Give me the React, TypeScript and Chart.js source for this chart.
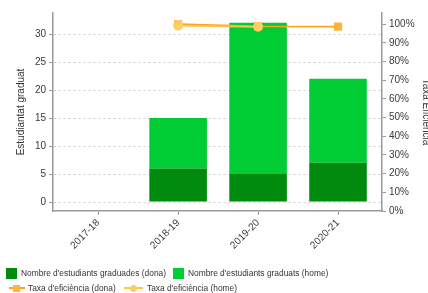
import React, { useEffect, useRef } from 'react';
import { Chart, registerables } from 'chart.js';

Chart.register(...registerables);

const categories = ['2017-18', '2018-19', '2019-20', '2020-21'];
const graduatesWomen = [null, 6, 5, 7];
const graduatesMen = [null, 9, 27, 15];
const efficiencyWomen = [null, 100, 98.8, 98.7];
const efficiencyMen = [null, 99.2, 98.6, null];
const leftTicks = [0, 5, 10, 15, 20, 25, 30];
const rightTicks = [0, 10, 20, 30, 40, 50, 60, 70, 80, 90, 100];

const legendBars = ["Nombre d'estudiants graduades (dona)", "Nombre d'estudiants graduats (home)"];
const legendLines = ["Taxa d'eficiència (dona)", "Taxa d'eficiència (home)"];

const FONT = '"Liberation Sans", Arial, sans-serif';
const DARK_GREEN = '#008a0e';
const LIGHT_GREEN = '#00cc33';
const ORANGE = '#ffa31a';
const ORANGE_FILL = '#ffb340';
const LIGHT_ORANGE = '#ffc24d';
const LIGHT_ORANGE_FILL = '#ffcc66';
const AXIS = '#9a9a9a';
const LABEL = '#3a3a3a';

export default function App() {
  const ref = useRef<HTMLCanvasElement | null>(null);

  useEffect(() => {
    document.body.style.margin = '0';
    const canvas = ref.current;
    if (!canvas) return;
    const chart = new Chart(canvas, {
      type: 'bar',
      data: {
        labels: categories,
        datasets: [
          {
            type: 'line',
            label: legendLines[0],
            data: efficiencyWomen,
            yAxisID: 'y1',
            borderColor: ORANGE,
            backgroundColor: ORANGE_FILL,
            pointBackgroundColor: ORANGE_FILL,
            pointBorderColor: ORANGE_FILL,
            pointStyle: 'rect',
            pointRadius: 4.5,
            borderWidth: 1.8,
            order: 1,
          } as any,
          {
            type: 'line',
            label: legendLines[1],
            data: efficiencyMen,
            yAxisID: 'y1',
            borderColor: LIGHT_ORANGE,
            backgroundColor: LIGHT_ORANGE_FILL,
            pointBackgroundColor: LIGHT_ORANGE_FILL,
            pointBorderColor: LIGHT_ORANGE_FILL,
            pointStyle: 'circle',
            pointRadius: 4,
            borderWidth: 1.8,
            order: 0,
          } as any,
          {
            type: 'bar',
            label: legendBars[0],
            data: graduatesWomen,
            yAxisID: 'y',
            backgroundColor: DARK_GREEN,
            barPercentage: 0.72,
            categoryPercentage: 1,
            order: 3,
          } as any,
          {
            type: 'bar',
            label: legendBars[1],
            data: graduatesMen,
            yAxisID: 'y',
            backgroundColor: LIGHT_GREEN,
            barPercentage: 0.72,
            categoryPercentage: 1,
            order: 4,
          } as any,
        ],
      },
      options: {
        responsive: false,
        animation: false,
        layout: { padding: { top: 13, left: 0, right: 0, bottom: 0 } },
        plugins: { legend: { display: false }, tooltip: { enabled: false } },
        scales: {
          x: {
            type: 'category',
            stacked: true,
            offset: true,
            grid: {
              display: true,
              drawOnChartArea: false,
              drawTicks: true,
              tickLength: 4,
              tickColor: AXIS,
              offset: false,
            },
            border: { color: AXIS, width: 1.5 },
            ticks: {
              minRotation: 45,
              maxRotation: 45,
              color: LABEL,
              font: { family: FONT, size: 10 },
              padding: 2,
              autoSkip: false,
            },
            afterBuildTicks: (s: any) => {
              s._valueRange = 4.115;
              s._startValue = -0.565;
            },
            afterFit: (s: any) => {
              s.height = 82;
            },
          },
          y: {
            type: 'linear',
            position: 'left',
            stacked: true,
            min: -1.6,
            max: 33.75,
            afterBuildTicks: (s: any) => {
              s.ticks = leftTicks.map((v) => ({ value: v }));
            },
            grid: {
              color: '#cfcfcf',
              lineWidth: 1,
              tickColor: AXIS,
              tickLength: 4,
            },
            border: { color: AXIS, width: 1.5, dash: [2, 3] },
            ticks: {
              color: LABEL,
              font: { family: FONT, size: 10 },
              padding: 3,
            },
            title: {
              display: true,
              text: 'Estudiantat graduat',
              color: '#333',
              font: { family: FONT, size: 10 },
              padding: { top: 15, bottom: 0 },
            },
            afterFit: (s: any) => {
              s.width = 53;
            },
          },
          y1: {
            type: 'linear',
            position: 'right',
            min: 0,
            max: 106,
            afterBuildTicks: (s: any) => {
              s.ticks = rightTicks.map((v) => ({ value: v }));
            },
            grid: {
              drawOnChartArea: false,
              tickColor: AXIS,
              tickLength: 4,
            },
            border: { color: AXIS, width: 1.5 },
            ticks: {
              color: LABEL,
              font: { family: FONT, size: 10 },
              padding: 3,
              callback: (v: any) => `${v}%`,
            },
            title: {
              display: true,
              text: 'Taxa Eficiència',
              color: '#333',
              font: { family: FONT, size: 10 },
              padding: { top: 4, bottom: 4 },
            },
            afterFit: (s: any) => {
              s.width = 54;
            },
          },
        },
      },
    });
    return () => chart.destroy();
  }, []);

  const text: React.CSSProperties = {
    position: 'absolute',
    font: `8.4px ${FONT}`,
    color: '#333',
    whiteSpace: 'nowrap',
    lineHeight: '10px',
  };

  return (
    <div style={{ position: 'relative', width: 428, height: 293, overflow: 'hidden' }}>
      <canvas ref={ref} width={436} height={293} style={{ width: 436, height: 293, display: 'block' }} />
      {/* Row 1 */}
      <div style={{ position: 'absolute', left: 6, top: 268, width: 11, height: 11, background: DARK_GREEN }} />
      <div style={{ ...text, left: 21, top: 268 }}>{legendBars[0]}</div>
      <div style={{ position: 'absolute', left: 173, top: 268, width: 11, height: 11, background: LIGHT_GREEN }} />
      <div style={{ ...text, left: 188, top: 268 }}>{legendBars[1]}</div>
      {/* Row 2 */}
      <div style={{ position: 'absolute', left: 9, top: 287, width: 16, height: 2, background: ORANGE }} />
      <div style={{ position: 'absolute', left: 13, top: 284.5, width: 7, height: 7, background: ORANGE_FILL }} />
      <div style={{ ...text, left: 28, top: 283 }}>{legendLines[0]}</div>
      <div style={{ position: 'absolute', left: 124, top: 287, width: 19, height: 2, background: LIGHT_ORANGE }} />
      <div style={{ position: 'absolute', left: 129.5, top: 284.5, width: 7, height: 7, borderRadius: '50%', background: LIGHT_ORANGE_FILL }} />
      <div style={{ ...text, left: 147, top: 283 }}>{legendLines[1]}</div>
    </div>
  );
}
